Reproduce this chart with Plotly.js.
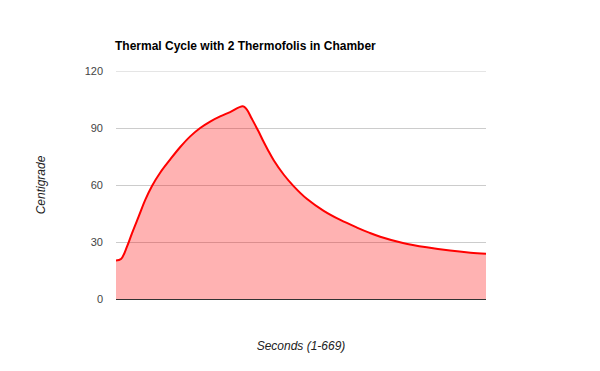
<!DOCTYPE html>
<html>
<head>
<meta charset="utf-8">
<script src="https://cdn.plot.ly/plotly-3.0.1.min.js"></script>
<style>html,body{margin:0;padding:0;background:#fff;}#chart{width:600px;height:371px;}</style>
</head>
<body>
<div id="chart"></div>
<script>
const seconds = [1, 10, 21, 30, 42, 54, 66, 81, 99, 117, 135, 153, 171, 189, 207, 230, 237, 246, 258, 267, 275, 286, 304, 322, 346, 376, 406, 436, 459, 478, 519, 562, 604, 641, 669];
const centigrade = [20.2, 21, 27.7, 34.7, 43.5, 52.3, 59.5, 66.6, 73.5, 80.0, 85.6, 90, 93.4, 96.1, 98.4, 101.5, 99.8, 95, 88.4, 83, 78.6, 72.9, 65.4, 59.3, 52.6, 46.4, 41.6, 37.6, 34.8, 32.8, 29.5, 27.2, 25.5, 24.4, 23.8];
const yTicks = [0, 30, 60, 90, 120];

const trace = {
  x: seconds,
  y: centigrade,
  type: 'scatter',
  mode: 'lines',
  line: {color: '#ff0000', width: 2, shape: 'spline', smoothing: 1},
  fill: 'tozeroy',
  fillcolor: 'rgba(255,0,0,0.3)',
  hoverinfo: 'skip'
};

const layout = {
  width: 600,
  height: 371,
  margin: {l: 116, r: 114, t: 71, b: 72},
  paper_bgcolor: '#ffffff',
  plot_bgcolor: '#ffffff',
  font: {family: 'Liberation Sans, Arial, sans-serif', size: 11, color: '#444'},
  showlegend: false,
  title: {
    text: '<b>Thermal Cycle with 2 Thermofolis in Chamber</b>',
    font: {family: 'Liberation Sans, Arial, sans-serif', size: 12, color: '#000'},
    x: 115 / 600, xref: 'container', xanchor: 'left',
    y: 1 - 46 / 371, yref: 'container', yanchor: 'middle'
  },
  xaxis: {
    range: [1, 669],
    showticklabels: false,
    showgrid: false,
    zeroline: false,
    showline: true,
    linecolor: '#333',
    linewidth: 1,
    ticks: '',
    title: {text: '<i>Seconds (1-669)</i>', font: {size: 12, color: '#222'}, standoff: 42}
  },
  yaxis: {
    range: [0, 120],
    tickvals: yTicks,
    ticktext: yTicks.map(String),
    showgrid: true,
    gridcolor: '#cccccc',
    zeroline: false,
    showline: false,
    ticks: '',
    ticklabelstandoff: 12,
    title: {text: '<i>Centigrade</i>', font: {size: 12, color: '#222'}, standoff: 36}
  },
  shapes: [{
    type: 'line', xref: 'paper', yref: 'y', x0: 0, x1: 1, y0: 120, y1: 120,
    line: {color: '#cccccc', width: 1}, layer: 'below'
  }]
};

Plotly.newPlot('chart', [trace], layout, {staticPlot: true, displayModeBar: false});
</script>
</body>
</html>
